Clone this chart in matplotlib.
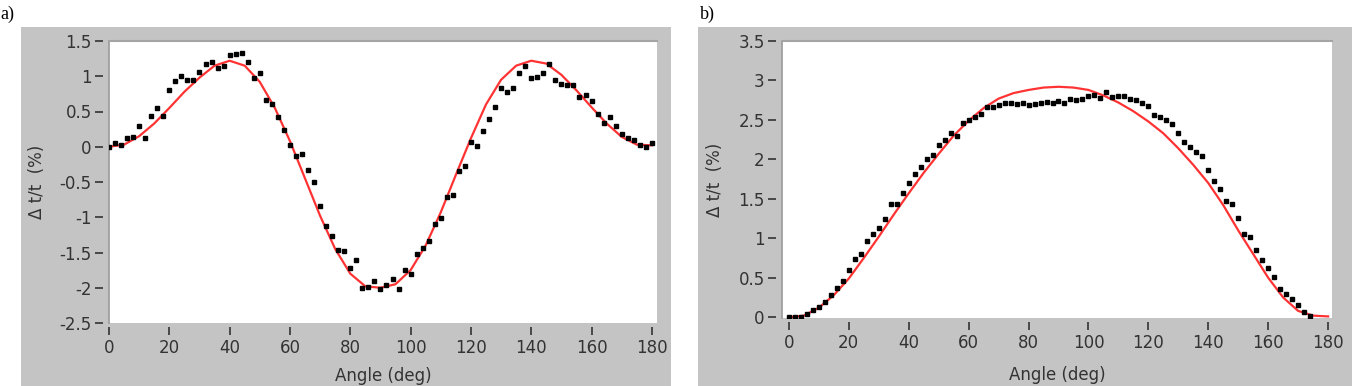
import matplotlib
matplotlib.use("Agg")
import matplotlib.pyplot as plt
from matplotlib.patches import Rectangle

plt.rcParams['font.family'] = ['DejaVu Sans']
plt.rcParams['axes.unicode_minus'] = False

# ---- panel a: measured points (2 deg steps) and fit curve (5 deg steps) ----
angle_a = [0, 2, 4, 6, 8, 10, 12, 14, 16, 18, 20, 22, 24, 26, 28, 30, 32, 34, 36, 38,
           40, 42, 44, 46, 48, 50, 52, 54, 56, 58, 60, 62, 64, 66, 68, 70, 72, 74, 76, 78,
           80, 82, 84, 86, 88, 90, 92, 94, 96, 98, 100, 102, 104, 106, 108, 110, 112, 114,
           116, 118, 120, 122, 124, 126, 128, 130, 132, 134, 136, 138, 140, 142, 144, 146,
           148, 150, 152, 154, 156, 158, 160, 162, 164, 166, 168, 170, 172, 174, 176, 178, 180]
dt_a = [0.0, 0.05, 0.02, 0.13, 0.14, 0.29, 0.13, 0.44, 0.55, 0.44, 0.81, 0.93, 1.01, 0.95,
        0.94, 1.06, 1.17, 1.20, 1.11, 1.15, 1.30, 1.31, 1.33, 1.20, 0.98, 1.05, 0.67, 0.60,
        0.42, 0.24, 0.02, -0.13, -0.10, -0.33, -0.50, -0.84, -1.13, -1.26, -1.46, -1.48,
        -1.72, -1.60, -2.00, -1.99, -1.90, -2.02, -1.96, -1.88, -2.02, -1.75, -1.81, -1.52,
        -1.43, -1.34, -1.09, -1.01, -0.71, -0.68, -0.35, -0.28, 0.07, 0.01, 0.23, 0.39,
        0.57, 0.84, 0.78, 0.84, 1.05, 1.14, 0.98, 0.99, 1.05, 1.18, 0.95, 0.89, 0.87, 0.87,
        0.70, 0.74, 0.65, 0.47, 0.33, 0.42, 0.30, 0.18, 0.13, 0.09, 0.03, -0.01, 0.05]

fit_angle = [0, 5, 10, 15, 20, 25, 30, 35, 40, 45, 50, 55, 60, 65, 70, 75, 80, 85, 90,
             95, 100, 105, 110, 115, 120, 125, 130, 135, 140, 145, 150, 155, 160, 165,
             170, 175, 180]
fit_a = [0.0, 0.03, 0.15, 0.33, 0.55, 0.78, 0.98, 1.15, 1.22, 1.15, 0.92, 0.55, 0.08,
         -0.45, -0.98, -1.45, -1.80, -1.98, -2.00, -1.95, -1.75, -1.40, -0.93, -0.40,
         0.12, 0.60, 0.95, 1.15, 1.22, 1.18, 1.02, 0.80, 0.56, 0.33, 0.14, 0.03, 0.02]

# ---- panel b ----
angle_b = [0, 2, 4, 6, 8, 10, 12, 14, 16, 18, 20, 22, 24, 26, 28, 30, 32, 34, 36, 38,
           40, 42, 44, 46, 48, 50, 52, 54, 56, 58, 60, 62, 64, 66, 68, 70, 72, 74, 76, 78,
           80, 82, 84, 86, 88, 90, 92, 94, 96, 98, 100, 102, 104, 106, 108, 110, 112, 114,
           116, 118, 120, 122, 124, 126, 128, 130, 132, 134, 136, 138, 140, 142, 144, 146,
           148, 150, 152, 154, 156, 158, 160, 162, 164, 166, 168, 170, 172, 174]
dt_b = [0.00, 0.00, 0.00, 0.04, 0.09, 0.13, 0.19, 0.28, 0.37, 0.46, 0.60, 0.74, 0.80,
        0.96, 1.05, 1.13, 1.24, 1.43, 1.43, 1.57, 1.70, 1.81, 1.90, 2.00, 2.06, 2.18,
        2.24, 2.33, 2.29, 2.46, 2.50, 2.54, 2.58, 2.67, 2.67, 2.69, 2.71, 2.72, 2.70,
        2.71, 2.69, 2.70, 2.72, 2.73, 2.72, 2.74, 2.72, 2.76, 2.75, 2.76, 2.80, 2.82,
        2.78, 2.85, 2.79, 2.80, 2.80, 2.76, 2.75, 2.71, 2.68, 2.56, 2.54, 2.50, 2.45,
        2.33, 2.22, 2.16, 2.09, 2.04, 1.86, 1.73, 1.62, 1.47, 1.43, 1.26, 1.05, 1.02,
        0.85, 0.73, 0.62, 0.51, 0.36, 0.30, 0.23, 0.15, 0.06, 0.02]
fit_b = [0.0, 0.02, 0.12, 0.28, 0.49, 0.75, 1.02, 1.30, 1.57, 1.83, 2.07, 2.30, 2.49,
         2.65, 2.77, 2.84, 2.88, 2.91, 2.92, 2.91, 2.88, 2.81, 2.72, 2.61, 2.48, 2.33,
         2.14, 1.93, 1.70, 1.42, 1.10, 0.80, 0.50, 0.25, 0.08, 0.02, 0.01]

xticks = [0, 20, 40, 60, 80, 100, 120, 140, 160, 180]
yticks_a = [-2.5, -2, -1.5, -1, -0.5, 0, 0.5, 1, 1.5]
ylabels_a = ['-2.5', '-2', '-1.5', '-1', '-0.5', '0', '0.5', '1', '1.5']
yticks_b = [0, 0.5, 1, 1.5, 2, 2.5, 3, 3.5]
ylabels_b = ['0', '0.5', '1', '1.5', '2', '2.5', '3', '3.5']

W, H = 1357, 386
GRAY = '#c4c4c4'
TXT = '#333333'

fig = plt.figure(figsize=(W / 100, H / 100), dpi=100)
fig.patch.set_facecolor('white')

# grey panel backgrounds, drawn behind the axes
for x0, x1 in [(21, 671), (698, 1352)]:
    fig.patches.append(Rectangle((x0 / W, 0), (x1 - x0) / W, (386 - 27) / H,
                                 transform=fig.transFigure, facecolor=GRAY,
                                 edgecolor='none', zorder=-10))


def make_axes(rect, ylim, xlim, yt, yl, xlab_y, ylab_x):
    ax = fig.add_axes(rect)
    ax.set_zorder(1)
    ax.set_facecolor('white')
    ax.set_xlim(*xlim)
    ax.set_ylim(*ylim)
    ax.set_xticks(xticks)
    ax.set_xticklabels([str(t) for t in xticks])
    ax.set_yticks(yt)
    ax.set_yticklabels(yl)
    for s in ['right', 'bottom', 'left']:
        ax.spines[s].set_color('none')
    ax.spines['top'].set_color('#a4a4a4')
    ax.spines['top'].set_linewidth(1.5)
    ax.spines['left'].set_position(('outward', 4))
    ax.spines['bottom'].set_position(('outward', 3))
    ax.plot([0, 0], [0, 1], transform=ax.transAxes, color='#9a9a9a',
            lw=1.2, clip_on=False, zorder=1)
    ax.tick_params(axis='both', direction='out', colors=TXT, labelsize=12,
                   width=1.2)
    ax.tick_params(axis='y', length=5.5, pad=3)
    ax.tick_params(axis='x', length=5.5, pad=3)
    ax.set_xlabel('Angle (deg)', fontsize=12, color=TXT)
    ax.set_ylabel('Δ t/t  (%)', fontsize=12, color=TXT)
    ax.xaxis.set_label_coords(0.5, xlab_y)
    ax.yaxis.set_label_coords(ylab_x, 0.5)
    return ax


ax1 = make_axes([109 / W, 1 - 323 / H, 548 / W, 282 / H], (-2.5, 1.5), (0, 181.7),
                yticks_a, ylabels_a, -0.155, -0.115)
ax1.plot(fit_angle, fit_a, color='#ff3333', lw=1.6, zorder=2)
ax1.plot(angle_a, dt_a, 's', color='black', ms=3.3, zorder=3)

ax2 = make_axes([782 / W, 1 - 318 / H, 550 / W, 277 / H], (-0.01, 3.5), (-2.3, 181.3),
                yticks_b, ylabels_b, -0.175, -0.105)
ax2.plot(fit_angle, fit_b, color='#ff3333', lw=1.6, zorder=2)
ax2.plot(angle_b, dt_b, 's', color='black', ms=3.3, zorder=3)

fig.text(0 / W, 1 - 14 / H, 'a)', family='Liberation Serif', fontsize=13,
         va='center', ha='left')
fig.text(700 / W, 1 - 14 / H, 'b)', family='Liberation Serif', fontsize=13,
         va='center', ha='left')

fig.savefig('out.png', dpi=100)
